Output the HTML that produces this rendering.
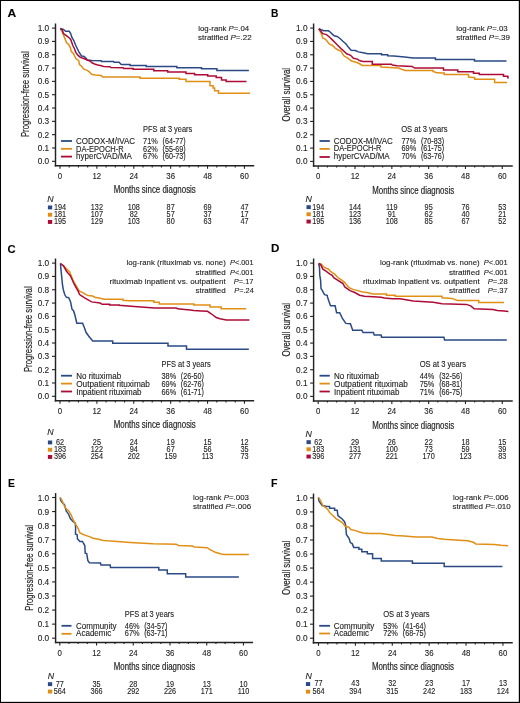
<!DOCTYPE html>
<html><head><meta charset="utf-8"><style>
html,body{margin:0;padding:0;background:#fff;width:520px;height:703px;overflow:hidden}
svg{display:block;font-family:"Liberation Sans",sans-serif;will-change:transform}
text{stroke:#2a2a2a;stroke-width:0.12px}
text.ttl{stroke-width:0.2px}
</style></head><body>
<svg width="520" height="703" viewBox="0 0 520 703">
<rect x="0" y="0" width="520" height="703" fill="#fff"/>
<rect x="0.00" y="0.00" width="520.00" height="1.00" fill="#000"/>
<rect x="0.00" y="0.00" width="1.00" height="703.00" fill="#000"/>
<rect x="518.80" y="0.00" width="1.20" height="703.00" fill="#000"/>
<rect x="0.00" y="701.85" width="520.00" height="1.15" fill="#000"/>
<line x1="55.50" y1="23.50" x2="55.50" y2="166.53" stroke="#222" stroke-width="1.45"/>
<line x1="54.77" y1="165.80" x2="254.20" y2="165.80" stroke="#222" stroke-width="1.45"/>
<line x1="52.00" y1="161.30" x2="55.50" y2="161.30" stroke="#222" stroke-width="1.10"/>
<text x="37.70" y="164.30" font-size="8.50" textLength="11.50" lengthAdjust="spacingAndGlyphs" fill="#222">0.0</text>
<line x1="52.00" y1="147.98" x2="55.50" y2="147.98" stroke="#222" stroke-width="1.10"/>
<text x="37.70" y="150.98" font-size="8.50" textLength="11.50" lengthAdjust="spacingAndGlyphs" fill="#222">0.1</text>
<line x1="52.00" y1="134.66" x2="55.50" y2="134.66" stroke="#222" stroke-width="1.10"/>
<text x="37.70" y="137.66" font-size="8.50" textLength="11.50" lengthAdjust="spacingAndGlyphs" fill="#222">0.2</text>
<line x1="52.00" y1="121.34" x2="55.50" y2="121.34" stroke="#222" stroke-width="1.10"/>
<text x="37.70" y="124.34" font-size="8.50" textLength="11.50" lengthAdjust="spacingAndGlyphs" fill="#222">0.3</text>
<line x1="52.00" y1="108.02" x2="55.50" y2="108.02" stroke="#222" stroke-width="1.10"/>
<text x="37.70" y="111.02" font-size="8.50" textLength="11.50" lengthAdjust="spacingAndGlyphs" fill="#222">0.4</text>
<line x1="52.00" y1="94.70" x2="55.50" y2="94.70" stroke="#222" stroke-width="1.10"/>
<text x="37.70" y="97.70" font-size="8.50" textLength="11.50" lengthAdjust="spacingAndGlyphs" fill="#222">0.5</text>
<line x1="52.00" y1="81.38" x2="55.50" y2="81.38" stroke="#222" stroke-width="1.10"/>
<text x="37.70" y="84.38" font-size="8.50" textLength="11.50" lengthAdjust="spacingAndGlyphs" fill="#222">0.6</text>
<line x1="52.00" y1="68.06" x2="55.50" y2="68.06" stroke="#222" stroke-width="1.10"/>
<text x="37.70" y="71.06" font-size="8.50" textLength="11.50" lengthAdjust="spacingAndGlyphs" fill="#222">0.7</text>
<line x1="52.00" y1="54.74" x2="55.50" y2="54.74" stroke="#222" stroke-width="1.10"/>
<text x="37.70" y="57.74" font-size="8.50" textLength="11.50" lengthAdjust="spacingAndGlyphs" fill="#222">0.8</text>
<line x1="52.00" y1="41.42" x2="55.50" y2="41.42" stroke="#222" stroke-width="1.10"/>
<text x="37.70" y="44.42" font-size="8.50" textLength="11.50" lengthAdjust="spacingAndGlyphs" fill="#222">0.9</text>
<line x1="52.00" y1="28.10" x2="55.50" y2="28.10" stroke="#222" stroke-width="1.10"/>
<text x="37.70" y="31.10" font-size="8.50" textLength="11.50" lengthAdjust="spacingAndGlyphs" fill="#222">1.0</text>
<line x1="60.00" y1="165.80" x2="60.00" y2="168.80" stroke="#222" stroke-width="1.10"/>
<text x="57.82" y="179.00" font-size="8.50" textLength="4.36" lengthAdjust="spacingAndGlyphs" fill="#222">0</text>
<line x1="69.22" y1="165.80" x2="69.22" y2="167.40" stroke="#222" stroke-width="1.10"/>
<line x1="78.44" y1="165.80" x2="78.44" y2="167.40" stroke="#222" stroke-width="1.10"/>
<line x1="87.67" y1="165.80" x2="87.67" y2="167.40" stroke="#222" stroke-width="1.10"/>
<line x1="96.89" y1="165.80" x2="96.89" y2="168.80" stroke="#222" stroke-width="1.10"/>
<text x="92.53" y="179.00" font-size="8.50" textLength="8.72" lengthAdjust="spacingAndGlyphs" fill="#222">12</text>
<line x1="106.11" y1="165.80" x2="106.11" y2="167.40" stroke="#222" stroke-width="1.10"/>
<line x1="115.33" y1="165.80" x2="115.33" y2="167.40" stroke="#222" stroke-width="1.10"/>
<line x1="124.55" y1="165.80" x2="124.55" y2="167.40" stroke="#222" stroke-width="1.10"/>
<line x1="133.78" y1="165.80" x2="133.78" y2="168.80" stroke="#222" stroke-width="1.10"/>
<text x="129.42" y="179.00" font-size="8.50" textLength="8.72" lengthAdjust="spacingAndGlyphs" fill="#222">24</text>
<line x1="143.00" y1="165.80" x2="143.00" y2="167.40" stroke="#222" stroke-width="1.10"/>
<line x1="152.22" y1="165.80" x2="152.22" y2="167.40" stroke="#222" stroke-width="1.10"/>
<line x1="161.44" y1="165.80" x2="161.44" y2="167.40" stroke="#222" stroke-width="1.10"/>
<line x1="170.66" y1="165.80" x2="170.66" y2="168.80" stroke="#222" stroke-width="1.10"/>
<text x="166.30" y="179.00" font-size="8.50" textLength="8.72" lengthAdjust="spacingAndGlyphs" fill="#222">36</text>
<line x1="179.89" y1="165.80" x2="179.89" y2="167.40" stroke="#222" stroke-width="1.10"/>
<line x1="189.11" y1="165.80" x2="189.11" y2="167.40" stroke="#222" stroke-width="1.10"/>
<line x1="198.33" y1="165.80" x2="198.33" y2="167.40" stroke="#222" stroke-width="1.10"/>
<line x1="207.55" y1="165.80" x2="207.55" y2="168.80" stroke="#222" stroke-width="1.10"/>
<text x="203.19" y="179.00" font-size="8.50" textLength="8.72" lengthAdjust="spacingAndGlyphs" fill="#222">48</text>
<line x1="216.77" y1="165.80" x2="216.77" y2="167.40" stroke="#222" stroke-width="1.10"/>
<line x1="226.00" y1="165.80" x2="226.00" y2="167.40" stroke="#222" stroke-width="1.10"/>
<line x1="235.22" y1="165.80" x2="235.22" y2="167.40" stroke="#222" stroke-width="1.10"/>
<line x1="244.44" y1="165.80" x2="244.44" y2="168.80" stroke="#222" stroke-width="1.10"/>
<text x="240.08" y="179.00" font-size="8.50" textLength="8.72" lengthAdjust="spacingAndGlyphs" fill="#222">60</text>
<text x="7.50" y="17.30" font-size="10.40" textLength="8.70" lengthAdjust="spacingAndGlyphs" fill="#000" font-weight="bold">A</text>
<g transform="translate(28.50,94.25) rotate(-90)">
<text x="-42.85" y="0.00" font-size="10.20" textLength="85.70" lengthAdjust="spacingAndGlyphs" fill="#222" class="ttl">Progression-free survival</text>
</g>
<text x="113.70" y="193.30" font-size="10.40" textLength="82.10" lengthAdjust="spacingAndGlyphs" fill="#222" class="ttl">Months since diagnosis</text>
<text x="198.30" y="31.10" font-size="8.00" textLength="50.90" lengthAdjust="spacingAndGlyphs" fill="#222">log-rank <tspan font-style="italic">P</tspan>=.04</text>
<text x="198.00" y="40.10" font-size="8.00" textLength="53.60" lengthAdjust="spacingAndGlyphs" fill="#222">stratified <tspan font-style="italic">P</tspan>=.22</text>
<text x="143.10" y="131.80" font-size="8.20" textLength="49.21" lengthAdjust="spacingAndGlyphs" fill="#222">PFS at 3 years</text>
<line x1="61.00" y1="141.00" x2="72.00" y2="141.00" stroke="#2a4a85" stroke-width="1.80"/>
<text x="76.10" y="143.80" font-size="8.20" textLength="58.97" lengthAdjust="spacingAndGlyphs" fill="#222">CODOX-M/IVAC</text>
<text x="143.10" y="143.80" font-size="8.20" textLength="14.73" lengthAdjust="spacingAndGlyphs" fill="#222">71%</text>
<text x="162.50" y="143.80" font-size="8.20" textLength="23.21" lengthAdjust="spacingAndGlyphs" fill="#222">(64-77)</text>
<line x1="61.00" y1="148.80" x2="72.00" y2="148.80" stroke="#e08f14" stroke-width="1.80"/>
<text x="76.10" y="151.60" font-size="8.20" textLength="47.63" lengthAdjust="spacingAndGlyphs" fill="#222">DA-EPOCH-R</text>
<text x="143.10" y="151.60" font-size="8.20" textLength="14.73" lengthAdjust="spacingAndGlyphs" fill="#222">62%</text>
<text x="162.50" y="151.60" font-size="8.20" textLength="23.21" lengthAdjust="spacingAndGlyphs" fill="#222">(55-69)</text>
<line x1="61.00" y1="156.60" x2="72.00" y2="156.60" stroke="#ad0b36" stroke-width="1.80"/>
<text x="76.10" y="159.40" font-size="8.20" textLength="55.87" lengthAdjust="spacingAndGlyphs" fill="#222">hyperCVAD/MA</text>
<text x="143.10" y="159.40" font-size="8.20" textLength="14.73" lengthAdjust="spacingAndGlyphs" fill="#222">67%</text>
<text x="162.50" y="159.40" font-size="8.20" textLength="23.21" lengthAdjust="spacingAndGlyphs" fill="#222">(60-73)</text>
<text x="47.30" y="201.90" font-size="8.80" textLength="6.36" lengthAdjust="spacingAndGlyphs" fill="#222" font-style="italic">N</text>
<rect x="47.90" y="205.50" width="4.30" height="3.90" fill="#2a4a85"/>
<text x="53.93" y="209.80" font-size="8.30" textLength="12.15" lengthAdjust="spacingAndGlyphs" fill="#222">194</text>
<text x="90.81" y="209.80" font-size="8.30" textLength="12.15" lengthAdjust="spacingAndGlyphs" fill="#222">132</text>
<text x="127.70" y="209.80" font-size="8.30" textLength="12.15" lengthAdjust="spacingAndGlyphs" fill="#222">108</text>
<text x="166.62" y="209.80" font-size="8.30" textLength="8.10" lengthAdjust="spacingAndGlyphs" fill="#222">87</text>
<text x="203.50" y="209.80" font-size="8.30" textLength="8.10" lengthAdjust="spacingAndGlyphs" fill="#222">69</text>
<text x="240.39" y="209.80" font-size="8.30" textLength="8.10" lengthAdjust="spacingAndGlyphs" fill="#222">47</text>
<rect x="47.90" y="212.80" width="4.30" height="3.90" fill="#e08f14"/>
<text x="53.93" y="217.10" font-size="8.30" textLength="12.15" lengthAdjust="spacingAndGlyphs" fill="#222">181</text>
<text x="90.81" y="217.10" font-size="8.30" textLength="12.15" lengthAdjust="spacingAndGlyphs" fill="#222">107</text>
<text x="129.73" y="217.10" font-size="8.30" textLength="8.10" lengthAdjust="spacingAndGlyphs" fill="#222">82</text>
<text x="166.62" y="217.10" font-size="8.30" textLength="8.10" lengthAdjust="spacingAndGlyphs" fill="#222">57</text>
<text x="203.50" y="217.10" font-size="8.30" textLength="8.10" lengthAdjust="spacingAndGlyphs" fill="#222">37</text>
<text x="240.39" y="217.10" font-size="8.30" textLength="8.10" lengthAdjust="spacingAndGlyphs" fill="#222">17</text>
<rect x="47.90" y="220.00" width="4.30" height="3.90" fill="#ad0b36"/>
<text x="53.93" y="224.30" font-size="8.30" textLength="12.15" lengthAdjust="spacingAndGlyphs" fill="#222">195</text>
<text x="90.81" y="224.30" font-size="8.30" textLength="12.15" lengthAdjust="spacingAndGlyphs" fill="#222">129</text>
<text x="127.70" y="224.30" font-size="8.30" textLength="12.15" lengthAdjust="spacingAndGlyphs" fill="#222">103</text>
<text x="166.62" y="224.30" font-size="8.30" textLength="8.10" lengthAdjust="spacingAndGlyphs" fill="#222">80</text>
<text x="203.50" y="224.30" font-size="8.30" textLength="8.10" lengthAdjust="spacingAndGlyphs" fill="#222">63</text>
<text x="240.39" y="224.30" font-size="8.30" textLength="8.10" lengthAdjust="spacingAndGlyphs" fill="#222">47</text>
<path d="M60.30,28.60 L61.80,30.90 L63.40,34.80 L64.90,38.60 L66.50,42.50 L68.80,44.80 L70.30,47.60 L71.20,51.30 L73.50,53.70 L75.80,58.60 L78.70,60.60 L79.50,64.60 L81.50,66.30 L83.80,69.20 L87.30,70.40 L89.60,72.10 L91.50,74.20 L95.40,75.00 L101.20,75.40 L102.70,76.90 H140 V78.2 H179.2 V79.2 H186 V81.5 H210 V85.8 H213.1 V88.1 H214.6 V90.7 H218.5 V93.2 H250" fill="none" stroke="#e08f14" stroke-width="1.50" stroke-linejoin="miter" stroke-linecap="butt"/>
<path d="M60.30,28.60 L63.40,29.40 L65.70,31.30 L69.20,31.30 L70.70,33.60 L71.80,37.10 L74.00,41.00 L75.80,45.50 L77.50,49.00 L79.20,52.50 L81.50,56.00 L83.80,56.30 L85.60,57.70 L87.30,60.00 L91.90,60.60 L101.20,60.80 L101.50,61.50 L113.50,61.50 L114.20,62.30 L119.20,62.30 L120.80,64.20 L121.50,64.60 H130 V65.4 H146.2 V66.5 H176.9 V67.7 H201.5 V68.8 H216.9 V70.4 H248.9" fill="none" stroke="#2a4a85" stroke-width="1.50" stroke-linejoin="miter" stroke-linecap="butt"/>
<path d="M60.30,28.60 L62.20,29.80 L63.40,33.60 L65.70,35.20 L68.80,37.50 L70.70,39.40 L71.80,42.50 L72.80,45.50 L74.40,48.50 L75.80,52.50 L78.10,55.40 L80.40,57.40 L84.40,58.80 L87.30,60.00 L90.20,61.20 L92.40,63.00 L94.60,64.00 L97.70,65.00 L101.50,65.80 L103.50,66.40 L110.00,66.80 L110.80,67.50 L123.10,67.70 L123.80,68.50 H133.1 V69.2 H153.8 V70.8 H167.7 V72 H186 V73.5 H194.6 V74.7 H207.7 V75.9 H216.2 V77.5 H221.5 V79.9 H226.2 V81.6 H246.5" fill="none" stroke="#ad0b36" stroke-width="1.50" stroke-linejoin="miter" stroke-linecap="butt"/>
<line x1="313.60" y1="23.50" x2="313.60" y2="166.72" stroke="#222" stroke-width="1.45"/>
<line x1="312.88" y1="166.00" x2="512.75" y2="166.00" stroke="#222" stroke-width="1.45"/>
<line x1="310.10" y1="161.40" x2="313.60" y2="161.40" stroke="#222" stroke-width="1.10"/>
<text x="296.00" y="164.40" font-size="8.50" textLength="11.50" lengthAdjust="spacingAndGlyphs" fill="#222">0.0</text>
<line x1="310.10" y1="148.07" x2="313.60" y2="148.07" stroke="#222" stroke-width="1.10"/>
<text x="296.00" y="151.07" font-size="8.50" textLength="11.50" lengthAdjust="spacingAndGlyphs" fill="#222">0.1</text>
<line x1="310.10" y1="134.74" x2="313.60" y2="134.74" stroke="#222" stroke-width="1.10"/>
<text x="296.00" y="137.74" font-size="8.50" textLength="11.50" lengthAdjust="spacingAndGlyphs" fill="#222">0.2</text>
<line x1="310.10" y1="121.41" x2="313.60" y2="121.41" stroke="#222" stroke-width="1.10"/>
<text x="296.00" y="124.41" font-size="8.50" textLength="11.50" lengthAdjust="spacingAndGlyphs" fill="#222">0.3</text>
<line x1="310.10" y1="108.08" x2="313.60" y2="108.08" stroke="#222" stroke-width="1.10"/>
<text x="296.00" y="111.08" font-size="8.50" textLength="11.50" lengthAdjust="spacingAndGlyphs" fill="#222">0.4</text>
<line x1="310.10" y1="94.75" x2="313.60" y2="94.75" stroke="#222" stroke-width="1.10"/>
<text x="296.00" y="97.75" font-size="8.50" textLength="11.50" lengthAdjust="spacingAndGlyphs" fill="#222">0.5</text>
<line x1="310.10" y1="81.42" x2="313.60" y2="81.42" stroke="#222" stroke-width="1.10"/>
<text x="296.00" y="84.42" font-size="8.50" textLength="11.50" lengthAdjust="spacingAndGlyphs" fill="#222">0.6</text>
<line x1="310.10" y1="68.09" x2="313.60" y2="68.09" stroke="#222" stroke-width="1.10"/>
<text x="296.00" y="71.09" font-size="8.50" textLength="11.50" lengthAdjust="spacingAndGlyphs" fill="#222">0.7</text>
<line x1="310.10" y1="54.76" x2="313.60" y2="54.76" stroke="#222" stroke-width="1.10"/>
<text x="296.00" y="57.76" font-size="8.50" textLength="11.50" lengthAdjust="spacingAndGlyphs" fill="#222">0.8</text>
<line x1="310.10" y1="41.43" x2="313.60" y2="41.43" stroke="#222" stroke-width="1.10"/>
<text x="296.00" y="44.43" font-size="8.50" textLength="11.50" lengthAdjust="spacingAndGlyphs" fill="#222">0.9</text>
<line x1="310.10" y1="28.10" x2="313.60" y2="28.10" stroke="#222" stroke-width="1.10"/>
<text x="296.00" y="31.10" font-size="8.50" textLength="11.50" lengthAdjust="spacingAndGlyphs" fill="#222">1.0</text>
<line x1="318.20" y1="166.00" x2="318.20" y2="169.00" stroke="#222" stroke-width="1.10"/>
<text x="316.02" y="179.00" font-size="8.50" textLength="4.36" lengthAdjust="spacingAndGlyphs" fill="#222">0</text>
<line x1="327.40" y1="166.00" x2="327.40" y2="167.60" stroke="#222" stroke-width="1.10"/>
<line x1="336.61" y1="166.00" x2="336.61" y2="167.60" stroke="#222" stroke-width="1.10"/>
<line x1="345.81" y1="166.00" x2="345.81" y2="167.60" stroke="#222" stroke-width="1.10"/>
<line x1="355.02" y1="166.00" x2="355.02" y2="169.00" stroke="#222" stroke-width="1.10"/>
<text x="350.66" y="179.00" font-size="8.50" textLength="8.72" lengthAdjust="spacingAndGlyphs" fill="#222">12</text>
<line x1="364.22" y1="166.00" x2="364.22" y2="167.60" stroke="#222" stroke-width="1.10"/>
<line x1="373.42" y1="166.00" x2="373.42" y2="167.60" stroke="#222" stroke-width="1.10"/>
<line x1="382.63" y1="166.00" x2="382.63" y2="167.60" stroke="#222" stroke-width="1.10"/>
<line x1="391.83" y1="166.00" x2="391.83" y2="169.00" stroke="#222" stroke-width="1.10"/>
<text x="387.47" y="179.00" font-size="8.50" textLength="8.72" lengthAdjust="spacingAndGlyphs" fill="#222">24</text>
<line x1="401.04" y1="166.00" x2="401.04" y2="167.60" stroke="#222" stroke-width="1.10"/>
<line x1="410.24" y1="166.00" x2="410.24" y2="167.60" stroke="#222" stroke-width="1.10"/>
<line x1="419.44" y1="166.00" x2="419.44" y2="167.60" stroke="#222" stroke-width="1.10"/>
<line x1="428.65" y1="166.00" x2="428.65" y2="169.00" stroke="#222" stroke-width="1.10"/>
<text x="424.29" y="179.00" font-size="8.50" textLength="8.72" lengthAdjust="spacingAndGlyphs" fill="#222">36</text>
<line x1="437.85" y1="166.00" x2="437.85" y2="167.60" stroke="#222" stroke-width="1.10"/>
<line x1="447.06" y1="166.00" x2="447.06" y2="167.60" stroke="#222" stroke-width="1.10"/>
<line x1="456.26" y1="166.00" x2="456.26" y2="167.60" stroke="#222" stroke-width="1.10"/>
<line x1="465.46" y1="166.00" x2="465.46" y2="169.00" stroke="#222" stroke-width="1.10"/>
<text x="461.10" y="179.00" font-size="8.50" textLength="8.72" lengthAdjust="spacingAndGlyphs" fill="#222">48</text>
<line x1="474.67" y1="166.00" x2="474.67" y2="167.60" stroke="#222" stroke-width="1.10"/>
<line x1="483.87" y1="166.00" x2="483.87" y2="167.60" stroke="#222" stroke-width="1.10"/>
<line x1="493.08" y1="166.00" x2="493.08" y2="167.60" stroke="#222" stroke-width="1.10"/>
<line x1="502.28" y1="166.00" x2="502.28" y2="169.00" stroke="#222" stroke-width="1.10"/>
<text x="497.92" y="179.00" font-size="8.50" textLength="8.72" lengthAdjust="spacingAndGlyphs" fill="#222">60</text>
<text x="271.00" y="17.30" font-size="10.40" textLength="7.40" lengthAdjust="spacingAndGlyphs" fill="#000" font-weight="bold">B</text>
<g transform="translate(289.80,94.75) rotate(-90)">
<text x="-26.85" y="0.00" font-size="10.20" textLength="53.70" lengthAdjust="spacingAndGlyphs" fill="#222" class="ttl">Overall survival</text>
</g>
<text x="372.30" y="193.50" font-size="10.40" textLength="81.80" lengthAdjust="spacingAndGlyphs" fill="#222" class="ttl">Months since diagnosis</text>
<text x="456.20" y="30.90" font-size="8.00" textLength="51.50" lengthAdjust="spacingAndGlyphs" fill="#222">log-rank <tspan font-style="italic">P</tspan>=.03</text>
<text x="456.20" y="40.00" font-size="8.00" textLength="53.80" lengthAdjust="spacingAndGlyphs" fill="#222">stratified <tspan font-style="italic">P</tspan>=.39</text>
<text x="401.20" y="131.80" font-size="8.20" textLength="46.47" lengthAdjust="spacingAndGlyphs" fill="#222">OS at 3 years</text>
<line x1="319.50" y1="141.00" x2="329.80" y2="141.00" stroke="#2a4a85" stroke-width="1.80"/>
<text x="333.80" y="143.60" font-size="8.20" textLength="58.97" lengthAdjust="spacingAndGlyphs" fill="#222">CODOX-M/IVAC</text>
<text x="401.50" y="143.60" font-size="8.20" textLength="14.73" lengthAdjust="spacingAndGlyphs" fill="#222">77%</text>
<text x="420.90" y="143.60" font-size="8.20" textLength="23.21" lengthAdjust="spacingAndGlyphs" fill="#222">(70-83)</text>
<line x1="319.50" y1="148.90" x2="329.80" y2="148.90" stroke="#e08f14" stroke-width="1.80"/>
<text x="333.80" y="151.40" font-size="8.20" textLength="47.63" lengthAdjust="spacingAndGlyphs" fill="#222">DA-EPOCH-R</text>
<text x="401.50" y="151.40" font-size="8.20" textLength="14.73" lengthAdjust="spacingAndGlyphs" fill="#222">69%</text>
<text x="420.90" y="151.40" font-size="8.20" textLength="23.21" lengthAdjust="spacingAndGlyphs" fill="#222">(61-75)</text>
<line x1="319.50" y1="157.00" x2="329.80" y2="157.00" stroke="#ad0b36" stroke-width="1.80"/>
<text x="333.80" y="159.20" font-size="8.20" textLength="55.87" lengthAdjust="spacingAndGlyphs" fill="#222">hyperCVAD/MA</text>
<text x="401.50" y="159.20" font-size="8.20" textLength="14.73" lengthAdjust="spacingAndGlyphs" fill="#222">70%</text>
<text x="420.90" y="159.20" font-size="8.20" textLength="23.21" lengthAdjust="spacingAndGlyphs" fill="#222">(63-76)</text>
<text x="305.40" y="201.70" font-size="8.80" textLength="6.36" lengthAdjust="spacingAndGlyphs" fill="#222" font-style="italic">N</text>
<rect x="306.50" y="205.20" width="4.30" height="3.90" fill="#2a4a85"/>
<text x="312.13" y="209.50" font-size="8.30" textLength="12.15" lengthAdjust="spacingAndGlyphs" fill="#222">194</text>
<text x="348.94" y="209.50" font-size="8.30" textLength="12.15" lengthAdjust="spacingAndGlyphs" fill="#222">144</text>
<text x="386.03" y="209.50" font-size="8.30" textLength="11.61" lengthAdjust="spacingAndGlyphs" fill="#222">119</text>
<text x="424.60" y="209.50" font-size="8.30" textLength="8.10" lengthAdjust="spacingAndGlyphs" fill="#222">95</text>
<text x="461.42" y="209.50" font-size="8.30" textLength="8.10" lengthAdjust="spacingAndGlyphs" fill="#222">76</text>
<text x="498.23" y="209.50" font-size="8.30" textLength="8.10" lengthAdjust="spacingAndGlyphs" fill="#222">53</text>
<rect x="306.50" y="212.30" width="4.30" height="3.90" fill="#e08f14"/>
<text x="312.13" y="216.60" font-size="8.30" textLength="12.15" lengthAdjust="spacingAndGlyphs" fill="#222">181</text>
<text x="348.94" y="216.60" font-size="8.30" textLength="12.15" lengthAdjust="spacingAndGlyphs" fill="#222">123</text>
<text x="387.78" y="216.60" font-size="8.30" textLength="8.10" lengthAdjust="spacingAndGlyphs" fill="#222">91</text>
<text x="424.60" y="216.60" font-size="8.30" textLength="8.10" lengthAdjust="spacingAndGlyphs" fill="#222">62</text>
<text x="461.42" y="216.60" font-size="8.30" textLength="8.10" lengthAdjust="spacingAndGlyphs" fill="#222">40</text>
<text x="498.23" y="216.60" font-size="8.30" textLength="8.10" lengthAdjust="spacingAndGlyphs" fill="#222">21</text>
<rect x="306.50" y="219.60" width="4.30" height="3.90" fill="#ad0b36"/>
<text x="312.13" y="223.90" font-size="8.30" textLength="12.15" lengthAdjust="spacingAndGlyphs" fill="#222">195</text>
<text x="348.94" y="223.90" font-size="8.30" textLength="12.15" lengthAdjust="spacingAndGlyphs" fill="#222">136</text>
<text x="385.76" y="223.90" font-size="8.30" textLength="12.15" lengthAdjust="spacingAndGlyphs" fill="#222">108</text>
<text x="424.60" y="223.90" font-size="8.30" textLength="8.10" lengthAdjust="spacingAndGlyphs" fill="#222">85</text>
<text x="461.42" y="223.90" font-size="8.30" textLength="8.10" lengthAdjust="spacingAndGlyphs" fill="#222">67</text>
<text x="498.23" y="223.90" font-size="8.30" textLength="8.10" lengthAdjust="spacingAndGlyphs" fill="#222">52</text>
<path d="M318.80,28.80 L321.70,34.60 L322.70,38.00 L325.60,39.40 L327.50,41.80 L329.40,44.20 L332.30,45.20 L335.20,48.10 L338.10,50.00 L341.00,51.00 L343.80,55.80 L347.70,58.20 L351.50,61.10 L355.40,62.00 L359.20,63.50 L362.30,65.50 H381 V67 L398.50,68.10 L401.50,69.20 L405.40,70.40 H433 V71.5 L436.90,72.70 L438.10,72.80 L442.70,73.10 H444.2 V74.6 H468.5 V77 L473.50,77.40 H474.7 V79.2 H494.6 V82.5 H507" fill="none" stroke="#e08f14" stroke-width="1.50" stroke-linejoin="miter" stroke-linecap="butt"/>
<path d="M318.80,28.80 L323.70,30.80 L328.50,30.80 L330.40,32.20 L332.30,34.10 L334.20,35.80 L337.10,36.50 L340.00,38.50 L342.90,41.30 L345.80,43.80 L348.70,47.60 L351.10,50.20 L355.40,50.50 L358.30,51.90 L363.10,52.70 L367.70,53.80 H381.5 V54.7 H387.7 V55.8 L393.80,56.10 L404.60,57.00 L413.10,58.10 H435.4 V59.5 H474.5 V61.1 H506.5" fill="none" stroke="#2a4a85" stroke-width="1.50" stroke-linejoin="miter" stroke-linecap="butt"/>
<path d="M318.80,28.80 L321.30,31.70 L322.70,33.70 L326.50,34.60 L329.40,37.00 L332.30,39.90 L335.20,42.80 L338.10,45.70 L341.00,48.60 L343.80,51.00 L346.70,53.80 L350.60,55.30 L353.50,58.20 L357.30,59.10 L360.00,60.80 L363.10,61.50 H372.3 V64.2 H391.5 L392.30,65.00 L396.90,65.80 L412.30,66.50 L414.60,68.10 H443.5 V70 H457.8 V71.8 H473.5 V73.2 H479.3 V74.6 H503.5 V76.3 H507.8 V77.7 H508.8" fill="none" stroke="#ad0b36" stroke-width="1.50" stroke-linejoin="miter" stroke-linecap="butt"/>
<line x1="55.50" y1="258.50" x2="55.50" y2="401.53" stroke="#222" stroke-width="1.45"/>
<line x1="54.77" y1="400.80" x2="254.20" y2="400.80" stroke="#222" stroke-width="1.45"/>
<line x1="52.00" y1="396.30" x2="55.50" y2="396.30" stroke="#222" stroke-width="1.10"/>
<text x="37.70" y="399.30" font-size="8.50" textLength="11.50" lengthAdjust="spacingAndGlyphs" fill="#222">0.0</text>
<line x1="52.00" y1="382.98" x2="55.50" y2="382.98" stroke="#222" stroke-width="1.10"/>
<text x="37.70" y="385.98" font-size="8.50" textLength="11.50" lengthAdjust="spacingAndGlyphs" fill="#222">0.1</text>
<line x1="52.00" y1="369.66" x2="55.50" y2="369.66" stroke="#222" stroke-width="1.10"/>
<text x="37.70" y="372.66" font-size="8.50" textLength="11.50" lengthAdjust="spacingAndGlyphs" fill="#222">0.2</text>
<line x1="52.00" y1="356.34" x2="55.50" y2="356.34" stroke="#222" stroke-width="1.10"/>
<text x="37.70" y="359.34" font-size="8.50" textLength="11.50" lengthAdjust="spacingAndGlyphs" fill="#222">0.3</text>
<line x1="52.00" y1="343.02" x2="55.50" y2="343.02" stroke="#222" stroke-width="1.10"/>
<text x="37.70" y="346.02" font-size="8.50" textLength="11.50" lengthAdjust="spacingAndGlyphs" fill="#222">0.4</text>
<line x1="52.00" y1="329.70" x2="55.50" y2="329.70" stroke="#222" stroke-width="1.10"/>
<text x="37.70" y="332.70" font-size="8.50" textLength="11.50" lengthAdjust="spacingAndGlyphs" fill="#222">0.5</text>
<line x1="52.00" y1="316.38" x2="55.50" y2="316.38" stroke="#222" stroke-width="1.10"/>
<text x="37.70" y="319.38" font-size="8.50" textLength="11.50" lengthAdjust="spacingAndGlyphs" fill="#222">0.6</text>
<line x1="52.00" y1="303.06" x2="55.50" y2="303.06" stroke="#222" stroke-width="1.10"/>
<text x="37.70" y="306.06" font-size="8.50" textLength="11.50" lengthAdjust="spacingAndGlyphs" fill="#222">0.7</text>
<line x1="52.00" y1="289.74" x2="55.50" y2="289.74" stroke="#222" stroke-width="1.10"/>
<text x="37.70" y="292.74" font-size="8.50" textLength="11.50" lengthAdjust="spacingAndGlyphs" fill="#222">0.8</text>
<line x1="52.00" y1="276.42" x2="55.50" y2="276.42" stroke="#222" stroke-width="1.10"/>
<text x="37.70" y="279.42" font-size="8.50" textLength="11.50" lengthAdjust="spacingAndGlyphs" fill="#222">0.9</text>
<line x1="52.00" y1="263.10" x2="55.50" y2="263.10" stroke="#222" stroke-width="1.10"/>
<text x="37.70" y="266.10" font-size="8.50" textLength="11.50" lengthAdjust="spacingAndGlyphs" fill="#222">1.0</text>
<line x1="60.00" y1="400.80" x2="60.00" y2="403.80" stroke="#222" stroke-width="1.10"/>
<text x="57.82" y="414.00" font-size="8.50" textLength="4.36" lengthAdjust="spacingAndGlyphs" fill="#222">0</text>
<line x1="69.22" y1="400.80" x2="69.22" y2="402.40" stroke="#222" stroke-width="1.10"/>
<line x1="78.44" y1="400.80" x2="78.44" y2="402.40" stroke="#222" stroke-width="1.10"/>
<line x1="87.67" y1="400.80" x2="87.67" y2="402.40" stroke="#222" stroke-width="1.10"/>
<line x1="96.89" y1="400.80" x2="96.89" y2="403.80" stroke="#222" stroke-width="1.10"/>
<text x="92.53" y="414.00" font-size="8.50" textLength="8.72" lengthAdjust="spacingAndGlyphs" fill="#222">12</text>
<line x1="106.11" y1="400.80" x2="106.11" y2="402.40" stroke="#222" stroke-width="1.10"/>
<line x1="115.33" y1="400.80" x2="115.33" y2="402.40" stroke="#222" stroke-width="1.10"/>
<line x1="124.55" y1="400.80" x2="124.55" y2="402.40" stroke="#222" stroke-width="1.10"/>
<line x1="133.78" y1="400.80" x2="133.78" y2="403.80" stroke="#222" stroke-width="1.10"/>
<text x="129.42" y="414.00" font-size="8.50" textLength="8.72" lengthAdjust="spacingAndGlyphs" fill="#222">24</text>
<line x1="143.00" y1="400.80" x2="143.00" y2="402.40" stroke="#222" stroke-width="1.10"/>
<line x1="152.22" y1="400.80" x2="152.22" y2="402.40" stroke="#222" stroke-width="1.10"/>
<line x1="161.44" y1="400.80" x2="161.44" y2="402.40" stroke="#222" stroke-width="1.10"/>
<line x1="170.66" y1="400.80" x2="170.66" y2="403.80" stroke="#222" stroke-width="1.10"/>
<text x="166.30" y="414.00" font-size="8.50" textLength="8.72" lengthAdjust="spacingAndGlyphs" fill="#222">36</text>
<line x1="179.89" y1="400.80" x2="179.89" y2="402.40" stroke="#222" stroke-width="1.10"/>
<line x1="189.11" y1="400.80" x2="189.11" y2="402.40" stroke="#222" stroke-width="1.10"/>
<line x1="198.33" y1="400.80" x2="198.33" y2="402.40" stroke="#222" stroke-width="1.10"/>
<line x1="207.55" y1="400.80" x2="207.55" y2="403.80" stroke="#222" stroke-width="1.10"/>
<text x="203.19" y="414.00" font-size="8.50" textLength="8.72" lengthAdjust="spacingAndGlyphs" fill="#222">48</text>
<line x1="216.77" y1="400.80" x2="216.77" y2="402.40" stroke="#222" stroke-width="1.10"/>
<line x1="226.00" y1="400.80" x2="226.00" y2="402.40" stroke="#222" stroke-width="1.10"/>
<line x1="235.22" y1="400.80" x2="235.22" y2="402.40" stroke="#222" stroke-width="1.10"/>
<line x1="244.44" y1="400.80" x2="244.44" y2="403.80" stroke="#222" stroke-width="1.10"/>
<text x="240.08" y="414.00" font-size="8.50" textLength="8.72" lengthAdjust="spacingAndGlyphs" fill="#222">60</text>
<text x="7.50" y="252.50" font-size="10.40" textLength="8.10" lengthAdjust="spacingAndGlyphs" fill="#000" font-weight="bold">C</text>
<g transform="translate(32.40,329.25) rotate(-90)">
<text x="-42.85" y="0.00" font-size="10.20" textLength="85.70" lengthAdjust="spacingAndGlyphs" fill="#222" class="ttl">Progression-free survival</text>
</g>
<text x="113.70" y="428.30" font-size="10.40" textLength="82.10" lengthAdjust="spacingAndGlyphs" fill="#222" class="ttl">Months since diagnosis</text>
<text x="126.50" y="265.30" font-size="8.00" textLength="99.30" lengthAdjust="spacingAndGlyphs" fill="#222">log-rank (rituximab vs. none)</text>
<text x="230.00" y="265.30" font-size="8.00" textLength="23.50" lengthAdjust="spacingAndGlyphs" fill="#222"><tspan font-style="italic">P</tspan>&lt;.001</text>
<text x="195.40" y="274.50" font-size="8.00" textLength="30.40" lengthAdjust="spacingAndGlyphs" fill="#222">stratified</text>
<text x="230.00" y="274.50" font-size="8.00" textLength="23.50" lengthAdjust="spacingAndGlyphs" fill="#222"><tspan font-style="italic">P</tspan>&lt;.001</text>
<text x="109.60" y="284.00" font-size="8.00" textLength="116.20" lengthAdjust="spacingAndGlyphs" fill="#222">rituximab inpatient vs. outpatient</text>
<text x="233.80" y="284.00" font-size="8.00" textLength="19.70" lengthAdjust="spacingAndGlyphs" fill="#222"><tspan font-style="italic">P</tspan>=.17</text>
<text x="195.40" y="293.30" font-size="8.00" textLength="30.40" lengthAdjust="spacingAndGlyphs" fill="#222">stratified</text>
<text x="234.20" y="293.30" font-size="8.00" textLength="19.60" lengthAdjust="spacingAndGlyphs" fill="#222"><tspan font-style="italic">P</tspan>=.24</text>
<text x="161.50" y="366.70" font-size="8.20" textLength="49.21" lengthAdjust="spacingAndGlyphs" fill="#222">PFS at 3 years</text>
<line x1="61.00" y1="375.70" x2="72.00" y2="375.70" stroke="#2a4a85" stroke-width="1.80"/>
<text x="76.20" y="379.00" font-size="8.20" textLength="44.90" lengthAdjust="spacingAndGlyphs" fill="#222">No rituximab</text>
<text x="161.50" y="379.00" font-size="8.20" textLength="14.73" lengthAdjust="spacingAndGlyphs" fill="#222">38%</text>
<text x="180.80" y="379.00" font-size="8.20" textLength="23.21" lengthAdjust="spacingAndGlyphs" fill="#222">(26-50)</text>
<line x1="61.00" y1="383.60" x2="72.00" y2="383.60" stroke="#e08f14" stroke-width="1.80"/>
<text x="76.20" y="386.80" font-size="8.20" textLength="73.74" lengthAdjust="spacingAndGlyphs" fill="#222">Outpatient rituximab</text>
<text x="161.50" y="386.80" font-size="8.20" textLength="14.73" lengthAdjust="spacingAndGlyphs" fill="#222">69%</text>
<text x="180.80" y="386.80" font-size="8.20" textLength="23.21" lengthAdjust="spacingAndGlyphs" fill="#222">(62-76)</text>
<line x1="61.00" y1="391.50" x2="72.00" y2="391.50" stroke="#ad0b36" stroke-width="1.80"/>
<text x="76.20" y="394.50" font-size="8.20" textLength="65.37" lengthAdjust="spacingAndGlyphs" fill="#222">Inpatient rituximab</text>
<text x="161.50" y="394.50" font-size="8.20" textLength="14.73" lengthAdjust="spacingAndGlyphs" fill="#222">66%</text>
<text x="180.80" y="394.50" font-size="8.20" textLength="23.21" lengthAdjust="spacingAndGlyphs" fill="#222">(61-71)</text>
<text x="47.30" y="434.90" font-size="8.80" textLength="6.36" lengthAdjust="spacingAndGlyphs" fill="#222" font-style="italic">N</text>
<rect x="47.90" y="440.50" width="4.30" height="3.90" fill="#2a4a85"/>
<text x="55.95" y="444.80" font-size="8.30" textLength="8.10" lengthAdjust="spacingAndGlyphs" fill="#222">62</text>
<text x="92.84" y="444.80" font-size="8.30" textLength="8.10" lengthAdjust="spacingAndGlyphs" fill="#222">25</text>
<text x="129.73" y="444.80" font-size="8.30" textLength="8.10" lengthAdjust="spacingAndGlyphs" fill="#222">24</text>
<text x="166.62" y="444.80" font-size="8.30" textLength="8.10" lengthAdjust="spacingAndGlyphs" fill="#222">19</text>
<text x="203.50" y="444.80" font-size="8.30" textLength="8.10" lengthAdjust="spacingAndGlyphs" fill="#222">15</text>
<text x="240.39" y="444.80" font-size="8.30" textLength="8.10" lengthAdjust="spacingAndGlyphs" fill="#222">12</text>
<rect x="47.90" y="447.80" width="4.30" height="3.90" fill="#e08f14"/>
<text x="53.93" y="452.10" font-size="8.30" textLength="12.15" lengthAdjust="spacingAndGlyphs" fill="#222">183</text>
<text x="90.81" y="452.10" font-size="8.30" textLength="12.15" lengthAdjust="spacingAndGlyphs" fill="#222">122</text>
<text x="129.73" y="452.10" font-size="8.30" textLength="8.10" lengthAdjust="spacingAndGlyphs" fill="#222">94</text>
<text x="166.62" y="452.10" font-size="8.30" textLength="8.10" lengthAdjust="spacingAndGlyphs" fill="#222">67</text>
<text x="203.50" y="452.10" font-size="8.30" textLength="8.10" lengthAdjust="spacingAndGlyphs" fill="#222">56</text>
<text x="240.39" y="452.10" font-size="8.30" textLength="8.10" lengthAdjust="spacingAndGlyphs" fill="#222">35</text>
<rect x="47.90" y="455.00" width="4.30" height="3.90" fill="#ad0b36"/>
<text x="53.93" y="459.30" font-size="8.30" textLength="12.15" lengthAdjust="spacingAndGlyphs" fill="#222">396</text>
<text x="90.81" y="459.30" font-size="8.30" textLength="12.15" lengthAdjust="spacingAndGlyphs" fill="#222">254</text>
<text x="127.70" y="459.30" font-size="8.30" textLength="12.15" lengthAdjust="spacingAndGlyphs" fill="#222">202</text>
<text x="164.59" y="459.30" font-size="8.30" textLength="12.15" lengthAdjust="spacingAndGlyphs" fill="#222">159</text>
<text x="201.75" y="459.30" font-size="8.30" textLength="11.61" lengthAdjust="spacingAndGlyphs" fill="#222">113</text>
<text x="240.39" y="459.30" font-size="8.30" textLength="8.10" lengthAdjust="spacingAndGlyphs" fill="#222">73</text>
<path d="M60.40,263.50 L64.20,266.50 L69.60,271.90 L73.50,281.20 L78.80,290.40 L80.00,291.30 L83.20,292.90 L87.90,295.60 L92.70,296.10 L94.80,297.20 L100.10,298.20 L104.30,299.30 H122.9 V300.3 L129.40,300.80 H153.9 V302.3 H159.3 V304 H193.8 V305 H210 V307 H221.2 V308.8 H246.2" fill="none" stroke="#e08f14" stroke-width="1.50" stroke-linejoin="miter" stroke-linecap="butt"/>
<path d="M60.40,263.50 L61.20,271.90 L62.50,285.00 L63.40,290.00 L64.80,294.80 L66.30,297.20 L68.70,297.70 L70.60,302.00 L72.00,309.20 L73.50,310.70 L74.90,315.00 L76.80,323.20 L82.60,323.20 L84.50,328.00 L86.00,332.30 L88.80,336.20 L92.70,341.00 H112.7 V343.3 H168 V346 H186.5 V349.2 H248.8" fill="none" stroke="#2a4a85" stroke-width="1.50" stroke-linejoin="miter" stroke-linecap="butt"/>
<path d="M60.40,263.50 L63.50,265.80 L66.50,271.20 L70.40,275.80 L74.20,284.20 L78.10,291.20 L79.60,294.50 L84.20,297.70 L91.60,301.90 L100.10,303.00 L102.20,304.30 H109.6 V305.1 H119.2 V305.3 L134.40,306.60 L154.60,308.00 L176.30,308.00 L177.70,308.80 L184.90,309.50 L190.00,310.00 L193.75,310.60 L201.25,311.00 L207.50,311.30 L211.25,313.75 L216.25,317.50 L220.00,318.75 L226.25,320.00 L249.40,320.00" fill="none" stroke="#ad0b36" stroke-width="1.50" stroke-linejoin="miter" stroke-linecap="butt"/>
<line x1="313.60" y1="258.50" x2="313.60" y2="401.73" stroke="#222" stroke-width="1.45"/>
<line x1="312.88" y1="401.00" x2="512.75" y2="401.00" stroke="#222" stroke-width="1.45"/>
<line x1="310.10" y1="396.40" x2="313.60" y2="396.40" stroke="#222" stroke-width="1.10"/>
<text x="296.00" y="399.40" font-size="8.50" textLength="11.50" lengthAdjust="spacingAndGlyphs" fill="#222">0.0</text>
<line x1="310.10" y1="383.07" x2="313.60" y2="383.07" stroke="#222" stroke-width="1.10"/>
<text x="296.00" y="386.07" font-size="8.50" textLength="11.50" lengthAdjust="spacingAndGlyphs" fill="#222">0.1</text>
<line x1="310.10" y1="369.74" x2="313.60" y2="369.74" stroke="#222" stroke-width="1.10"/>
<text x="296.00" y="372.74" font-size="8.50" textLength="11.50" lengthAdjust="spacingAndGlyphs" fill="#222">0.2</text>
<line x1="310.10" y1="356.41" x2="313.60" y2="356.41" stroke="#222" stroke-width="1.10"/>
<text x="296.00" y="359.41" font-size="8.50" textLength="11.50" lengthAdjust="spacingAndGlyphs" fill="#222">0.3</text>
<line x1="310.10" y1="343.08" x2="313.60" y2="343.08" stroke="#222" stroke-width="1.10"/>
<text x="296.00" y="346.08" font-size="8.50" textLength="11.50" lengthAdjust="spacingAndGlyphs" fill="#222">0.4</text>
<line x1="310.10" y1="329.75" x2="313.60" y2="329.75" stroke="#222" stroke-width="1.10"/>
<text x="296.00" y="332.75" font-size="8.50" textLength="11.50" lengthAdjust="spacingAndGlyphs" fill="#222">0.5</text>
<line x1="310.10" y1="316.42" x2="313.60" y2="316.42" stroke="#222" stroke-width="1.10"/>
<text x="296.00" y="319.42" font-size="8.50" textLength="11.50" lengthAdjust="spacingAndGlyphs" fill="#222">0.6</text>
<line x1="310.10" y1="303.09" x2="313.60" y2="303.09" stroke="#222" stroke-width="1.10"/>
<text x="296.00" y="306.09" font-size="8.50" textLength="11.50" lengthAdjust="spacingAndGlyphs" fill="#222">0.7</text>
<line x1="310.10" y1="289.76" x2="313.60" y2="289.76" stroke="#222" stroke-width="1.10"/>
<text x="296.00" y="292.76" font-size="8.50" textLength="11.50" lengthAdjust="spacingAndGlyphs" fill="#222">0.8</text>
<line x1="310.10" y1="276.43" x2="313.60" y2="276.43" stroke="#222" stroke-width="1.10"/>
<text x="296.00" y="279.43" font-size="8.50" textLength="11.50" lengthAdjust="spacingAndGlyphs" fill="#222">0.9</text>
<line x1="310.10" y1="263.10" x2="313.60" y2="263.10" stroke="#222" stroke-width="1.10"/>
<text x="296.00" y="266.10" font-size="8.50" textLength="11.50" lengthAdjust="spacingAndGlyphs" fill="#222">1.0</text>
<line x1="318.20" y1="401.00" x2="318.20" y2="404.00" stroke="#222" stroke-width="1.10"/>
<text x="316.02" y="414.00" font-size="8.50" textLength="4.36" lengthAdjust="spacingAndGlyphs" fill="#222">0</text>
<line x1="327.40" y1="401.00" x2="327.40" y2="402.60" stroke="#222" stroke-width="1.10"/>
<line x1="336.61" y1="401.00" x2="336.61" y2="402.60" stroke="#222" stroke-width="1.10"/>
<line x1="345.81" y1="401.00" x2="345.81" y2="402.60" stroke="#222" stroke-width="1.10"/>
<line x1="355.02" y1="401.00" x2="355.02" y2="404.00" stroke="#222" stroke-width="1.10"/>
<text x="350.66" y="414.00" font-size="8.50" textLength="8.72" lengthAdjust="spacingAndGlyphs" fill="#222">12</text>
<line x1="364.22" y1="401.00" x2="364.22" y2="402.60" stroke="#222" stroke-width="1.10"/>
<line x1="373.42" y1="401.00" x2="373.42" y2="402.60" stroke="#222" stroke-width="1.10"/>
<line x1="382.63" y1="401.00" x2="382.63" y2="402.60" stroke="#222" stroke-width="1.10"/>
<line x1="391.83" y1="401.00" x2="391.83" y2="404.00" stroke="#222" stroke-width="1.10"/>
<text x="387.47" y="414.00" font-size="8.50" textLength="8.72" lengthAdjust="spacingAndGlyphs" fill="#222">24</text>
<line x1="401.04" y1="401.00" x2="401.04" y2="402.60" stroke="#222" stroke-width="1.10"/>
<line x1="410.24" y1="401.00" x2="410.24" y2="402.60" stroke="#222" stroke-width="1.10"/>
<line x1="419.44" y1="401.00" x2="419.44" y2="402.60" stroke="#222" stroke-width="1.10"/>
<line x1="428.65" y1="401.00" x2="428.65" y2="404.00" stroke="#222" stroke-width="1.10"/>
<text x="424.29" y="414.00" font-size="8.50" textLength="8.72" lengthAdjust="spacingAndGlyphs" fill="#222">36</text>
<line x1="437.85" y1="401.00" x2="437.85" y2="402.60" stroke="#222" stroke-width="1.10"/>
<line x1="447.06" y1="401.00" x2="447.06" y2="402.60" stroke="#222" stroke-width="1.10"/>
<line x1="456.26" y1="401.00" x2="456.26" y2="402.60" stroke="#222" stroke-width="1.10"/>
<line x1="465.46" y1="401.00" x2="465.46" y2="404.00" stroke="#222" stroke-width="1.10"/>
<text x="461.10" y="414.00" font-size="8.50" textLength="8.72" lengthAdjust="spacingAndGlyphs" fill="#222">48</text>
<line x1="474.67" y1="401.00" x2="474.67" y2="402.60" stroke="#222" stroke-width="1.10"/>
<line x1="483.87" y1="401.00" x2="483.87" y2="402.60" stroke="#222" stroke-width="1.10"/>
<line x1="493.08" y1="401.00" x2="493.08" y2="402.60" stroke="#222" stroke-width="1.10"/>
<line x1="502.28" y1="401.00" x2="502.28" y2="404.00" stroke="#222" stroke-width="1.10"/>
<text x="497.92" y="414.00" font-size="8.50" textLength="8.72" lengthAdjust="spacingAndGlyphs" fill="#222">60</text>
<text x="271.00" y="252.25" font-size="10.40" textLength="8.40" lengthAdjust="spacingAndGlyphs" fill="#000" font-weight="bold">D</text>
<g transform="translate(290.40,329.75) rotate(-90)">
<text x="-26.85" y="0.00" font-size="10.20" textLength="53.70" lengthAdjust="spacingAndGlyphs" fill="#222" class="ttl">Overall survival</text>
</g>
<text x="372.30" y="428.50" font-size="10.40" textLength="81.80" lengthAdjust="spacingAndGlyphs" fill="#222" class="ttl">Months since diagnosis</text>
<text x="380.00" y="265.30" font-size="8.00" textLength="99.70" lengthAdjust="spacingAndGlyphs" fill="#222">log-rank (rituximab vs. none)</text>
<text x="483.80" y="265.30" font-size="8.00" textLength="23.90" lengthAdjust="spacingAndGlyphs" fill="#222"><tspan font-style="italic">P</tspan>&lt;.001</text>
<text x="448.90" y="274.50" font-size="8.00" textLength="30.80" lengthAdjust="spacingAndGlyphs" fill="#222">stratified</text>
<text x="483.80" y="274.50" font-size="8.00" textLength="23.90" lengthAdjust="spacingAndGlyphs" fill="#222"><tspan font-style="italic">P</tspan>&lt;.001</text>
<text x="363.10" y="284.00" font-size="8.00" textLength="116.60" lengthAdjust="spacingAndGlyphs" fill="#222">rituximab inpatient vs. outpatient</text>
<text x="487.70" y="284.00" font-size="8.00" textLength="20.00" lengthAdjust="spacingAndGlyphs" fill="#222"><tspan font-style="italic">P</tspan>=.28</text>
<text x="448.90" y="293.30" font-size="8.00" textLength="30.80" lengthAdjust="spacingAndGlyphs" fill="#222">stratified</text>
<text x="487.70" y="293.30" font-size="8.00" textLength="20.00" lengthAdjust="spacingAndGlyphs" fill="#222"><tspan font-style="italic">P</tspan>=.37</text>
<text x="419.70" y="367.00" font-size="8.20" textLength="46.47" lengthAdjust="spacingAndGlyphs" fill="#222">OS at 3 years</text>
<line x1="319.50" y1="375.70" x2="329.80" y2="375.70" stroke="#2a4a85" stroke-width="1.80"/>
<text x="334.10" y="379.00" font-size="8.20" textLength="44.90" lengthAdjust="spacingAndGlyphs" fill="#222">No rituximab</text>
<text x="419.70" y="379.00" font-size="8.20" textLength="14.73" lengthAdjust="spacingAndGlyphs" fill="#222">44%</text>
<text x="439.20" y="379.00" font-size="8.20" textLength="23.21" lengthAdjust="spacingAndGlyphs" fill="#222">(32-56)</text>
<line x1="319.50" y1="383.60" x2="329.80" y2="383.60" stroke="#e08f14" stroke-width="1.80"/>
<text x="334.10" y="386.80" font-size="8.20" textLength="73.74" lengthAdjust="spacingAndGlyphs" fill="#222">Outpatient rituximab</text>
<text x="419.70" y="386.80" font-size="8.20" textLength="14.73" lengthAdjust="spacingAndGlyphs" fill="#222">75%</text>
<text x="439.20" y="386.80" font-size="8.20" textLength="23.21" lengthAdjust="spacingAndGlyphs" fill="#222">(68-81)</text>
<line x1="319.50" y1="391.50" x2="329.80" y2="391.50" stroke="#ad0b36" stroke-width="1.80"/>
<text x="334.10" y="394.50" font-size="8.20" textLength="65.37" lengthAdjust="spacingAndGlyphs" fill="#222">Inpatient rituximab</text>
<text x="419.70" y="394.50" font-size="8.20" textLength="14.73" lengthAdjust="spacingAndGlyphs" fill="#222">71%</text>
<text x="439.20" y="394.50" font-size="8.20" textLength="23.21" lengthAdjust="spacingAndGlyphs" fill="#222">(66-75)</text>
<text x="305.40" y="436.70" font-size="8.80" textLength="6.36" lengthAdjust="spacingAndGlyphs" fill="#222" font-style="italic">N</text>
<rect x="306.50" y="440.20" width="4.30" height="3.90" fill="#2a4a85"/>
<text x="314.15" y="444.50" font-size="8.30" textLength="8.10" lengthAdjust="spacingAndGlyphs" fill="#222">62</text>
<text x="350.97" y="444.50" font-size="8.30" textLength="8.10" lengthAdjust="spacingAndGlyphs" fill="#222">29</text>
<text x="387.78" y="444.50" font-size="8.30" textLength="8.10" lengthAdjust="spacingAndGlyphs" fill="#222">26</text>
<text x="424.60" y="444.50" font-size="8.30" textLength="8.10" lengthAdjust="spacingAndGlyphs" fill="#222">22</text>
<text x="461.42" y="444.50" font-size="8.30" textLength="8.10" lengthAdjust="spacingAndGlyphs" fill="#222">18</text>
<text x="498.23" y="444.50" font-size="8.30" textLength="8.10" lengthAdjust="spacingAndGlyphs" fill="#222">15</text>
<rect x="306.50" y="447.30" width="4.30" height="3.90" fill="#e08f14"/>
<text x="312.13" y="451.60" font-size="8.30" textLength="12.15" lengthAdjust="spacingAndGlyphs" fill="#222">183</text>
<text x="348.94" y="451.60" font-size="8.30" textLength="12.15" lengthAdjust="spacingAndGlyphs" fill="#222">131</text>
<text x="385.76" y="451.60" font-size="8.30" textLength="12.15" lengthAdjust="spacingAndGlyphs" fill="#222">100</text>
<text x="424.60" y="451.60" font-size="8.30" textLength="8.10" lengthAdjust="spacingAndGlyphs" fill="#222">73</text>
<text x="461.42" y="451.60" font-size="8.30" textLength="8.10" lengthAdjust="spacingAndGlyphs" fill="#222">59</text>
<text x="498.23" y="451.60" font-size="8.30" textLength="8.10" lengthAdjust="spacingAndGlyphs" fill="#222">39</text>
<rect x="306.50" y="454.60" width="4.30" height="3.90" fill="#ad0b36"/>
<text x="312.13" y="458.90" font-size="8.30" textLength="12.15" lengthAdjust="spacingAndGlyphs" fill="#222">396</text>
<text x="348.94" y="458.90" font-size="8.30" textLength="12.15" lengthAdjust="spacingAndGlyphs" fill="#222">277</text>
<text x="385.76" y="458.90" font-size="8.30" textLength="12.15" lengthAdjust="spacingAndGlyphs" fill="#222">221</text>
<text x="422.57" y="458.90" font-size="8.30" textLength="12.15" lengthAdjust="spacingAndGlyphs" fill="#222">170</text>
<text x="459.39" y="458.90" font-size="8.30" textLength="12.15" lengthAdjust="spacingAndGlyphs" fill="#222">123</text>
<text x="498.23" y="458.90" font-size="8.30" textLength="8.10" lengthAdjust="spacingAndGlyphs" fill="#222">83</text>
<path d="M318.70,263.50 L321.40,264.20 L323.70,266.90 L326.80,268.50 L328.70,269.20 L329.80,270.80 L332.20,272.70 L334.80,274.20 L336.80,276.50 L339.10,278.50 L342.20,280.40 L344.50,282.30 L346.80,285.00 L349.10,287.70 L352.90,289.40 L357.70,290.60 L362.50,292.00 L367.30,292.50 L372.60,293.90 H386.5 V295.2 H395.2 V296.2 H442 V297.7 L452.00,298.40 L457.50,300.40 H478.8 V302.6 H504" fill="none" stroke="#e08f14" stroke-width="1.50" stroke-linejoin="miter" stroke-linecap="butt"/>
<path d="M318.70,263.50 L319.50,267.70 L319.80,275.40 L320.60,280.00 L321.00,288.50 L322.50,290.80 L324.50,294.60 L327.20,295.40 L327.50,297.00 L328.90,301.20 L330.50,305.80 L335.10,305.80 L336.60,312.70 L339.70,312.70 L342.30,318.10 L345.80,323.40 L350.40,323.80 L352.70,330.30 L361.90,330.30 L363.10,332.60 L373.50,332.60 L374.20,334.90 L381.10,334.90 L381.50,337.20 L443.90,337.20 L444.50,340.00 L506.80,340.00" fill="none" stroke="#2a4a85" stroke-width="1.50" stroke-linejoin="miter" stroke-linecap="butt"/>
<path d="M318.70,263.50 L320.60,264.60 L322.90,269.20 L326.00,271.20 L329.50,273.80 L332.20,275.40 L333.70,277.70 L336.80,279.60 L339.80,281.50 L342.90,283.50 L344.80,286.90 L347.50,288.80 L350.00,290.60 L354.80,292.50 L359.60,295.20 L364.40,296.30 L373.10,296.80 L380.80,297.30 L384.60,298.10 L392.30,298.80 L400.00,298.80 L413.30,301.10 L433.20,302.20 L442.00,303.70 L466.40,304.40 L470.80,305.90 L474.10,308.80 L492.90,309.50 L497.30,310.40 L504.00,311.00 L508.40,311.50" fill="none" stroke="#ad0b36" stroke-width="1.50" stroke-linejoin="miter" stroke-linecap="butt"/>
<line x1="55.60" y1="493.10" x2="55.60" y2="643.23" stroke="#222" stroke-width="1.45"/>
<line x1="54.88" y1="642.50" x2="253.10" y2="642.50" stroke="#222" stroke-width="1.45"/>
<line x1="52.10" y1="638.20" x2="55.60" y2="638.20" stroke="#222" stroke-width="1.10"/>
<text x="37.70" y="641.20" font-size="8.50" textLength="11.50" lengthAdjust="spacingAndGlyphs" fill="#222">0.0</text>
<line x1="52.10" y1="624.13" x2="55.60" y2="624.13" stroke="#222" stroke-width="1.10"/>
<text x="37.70" y="627.13" font-size="8.50" textLength="11.50" lengthAdjust="spacingAndGlyphs" fill="#222">0.1</text>
<line x1="52.10" y1="610.06" x2="55.60" y2="610.06" stroke="#222" stroke-width="1.10"/>
<text x="37.70" y="613.06" font-size="8.50" textLength="11.50" lengthAdjust="spacingAndGlyphs" fill="#222">0.2</text>
<line x1="52.10" y1="595.99" x2="55.60" y2="595.99" stroke="#222" stroke-width="1.10"/>
<text x="37.70" y="598.99" font-size="8.50" textLength="11.50" lengthAdjust="spacingAndGlyphs" fill="#222">0.3</text>
<line x1="52.10" y1="581.92" x2="55.60" y2="581.92" stroke="#222" stroke-width="1.10"/>
<text x="37.70" y="584.92" font-size="8.50" textLength="11.50" lengthAdjust="spacingAndGlyphs" fill="#222">0.4</text>
<line x1="52.10" y1="567.85" x2="55.60" y2="567.85" stroke="#222" stroke-width="1.10"/>
<text x="37.70" y="570.85" font-size="8.50" textLength="11.50" lengthAdjust="spacingAndGlyphs" fill="#222">0.5</text>
<line x1="52.10" y1="553.78" x2="55.60" y2="553.78" stroke="#222" stroke-width="1.10"/>
<text x="37.70" y="556.78" font-size="8.50" textLength="11.50" lengthAdjust="spacingAndGlyphs" fill="#222">0.6</text>
<line x1="52.10" y1="539.71" x2="55.60" y2="539.71" stroke="#222" stroke-width="1.10"/>
<text x="37.70" y="542.71" font-size="8.50" textLength="11.50" lengthAdjust="spacingAndGlyphs" fill="#222">0.7</text>
<line x1="52.10" y1="525.64" x2="55.60" y2="525.64" stroke="#222" stroke-width="1.10"/>
<text x="37.70" y="528.64" font-size="8.50" textLength="11.50" lengthAdjust="spacingAndGlyphs" fill="#222">0.8</text>
<line x1="52.10" y1="511.57" x2="55.60" y2="511.57" stroke="#222" stroke-width="1.10"/>
<text x="37.70" y="514.57" font-size="8.50" textLength="11.50" lengthAdjust="spacingAndGlyphs" fill="#222">0.9</text>
<line x1="52.10" y1="497.50" x2="55.60" y2="497.50" stroke="#222" stroke-width="1.10"/>
<text x="37.70" y="500.50" font-size="8.50" textLength="11.50" lengthAdjust="spacingAndGlyphs" fill="#222">1.0</text>
<line x1="59.80" y1="642.50" x2="59.80" y2="645.50" stroke="#222" stroke-width="1.10"/>
<text x="57.62" y="655.70" font-size="8.50" textLength="4.36" lengthAdjust="spacingAndGlyphs" fill="#222">0</text>
<line x1="68.98" y1="642.50" x2="68.98" y2="644.10" stroke="#222" stroke-width="1.10"/>
<line x1="78.17" y1="642.50" x2="78.17" y2="644.10" stroke="#222" stroke-width="1.10"/>
<line x1="87.35" y1="642.50" x2="87.35" y2="644.10" stroke="#222" stroke-width="1.10"/>
<line x1="96.53" y1="642.50" x2="96.53" y2="645.50" stroke="#222" stroke-width="1.10"/>
<text x="92.17" y="655.70" font-size="8.50" textLength="8.72" lengthAdjust="spacingAndGlyphs" fill="#222">12</text>
<line x1="105.72" y1="642.50" x2="105.72" y2="644.10" stroke="#222" stroke-width="1.10"/>
<line x1="114.90" y1="642.50" x2="114.90" y2="644.10" stroke="#222" stroke-width="1.10"/>
<line x1="124.08" y1="642.50" x2="124.08" y2="644.10" stroke="#222" stroke-width="1.10"/>
<line x1="133.26" y1="642.50" x2="133.26" y2="645.50" stroke="#222" stroke-width="1.10"/>
<text x="128.90" y="655.70" font-size="8.50" textLength="8.72" lengthAdjust="spacingAndGlyphs" fill="#222">24</text>
<line x1="142.45" y1="642.50" x2="142.45" y2="644.10" stroke="#222" stroke-width="1.10"/>
<line x1="151.63" y1="642.50" x2="151.63" y2="644.10" stroke="#222" stroke-width="1.10"/>
<line x1="160.81" y1="642.50" x2="160.81" y2="644.10" stroke="#222" stroke-width="1.10"/>
<line x1="170.00" y1="642.50" x2="170.00" y2="645.50" stroke="#222" stroke-width="1.10"/>
<text x="165.64" y="655.70" font-size="8.50" textLength="8.72" lengthAdjust="spacingAndGlyphs" fill="#222">36</text>
<line x1="179.18" y1="642.50" x2="179.18" y2="644.10" stroke="#222" stroke-width="1.10"/>
<line x1="188.36" y1="642.50" x2="188.36" y2="644.10" stroke="#222" stroke-width="1.10"/>
<line x1="197.55" y1="642.50" x2="197.55" y2="644.10" stroke="#222" stroke-width="1.10"/>
<line x1="206.73" y1="642.50" x2="206.73" y2="645.50" stroke="#222" stroke-width="1.10"/>
<text x="202.37" y="655.70" font-size="8.50" textLength="8.72" lengthAdjust="spacingAndGlyphs" fill="#222">48</text>
<line x1="215.91" y1="642.50" x2="215.91" y2="644.10" stroke="#222" stroke-width="1.10"/>
<line x1="225.09" y1="642.50" x2="225.09" y2="644.10" stroke="#222" stroke-width="1.10"/>
<line x1="234.28" y1="642.50" x2="234.28" y2="644.10" stroke="#222" stroke-width="1.10"/>
<line x1="243.46" y1="642.50" x2="243.46" y2="645.50" stroke="#222" stroke-width="1.10"/>
<text x="239.10" y="655.70" font-size="8.50" textLength="8.72" lengthAdjust="spacingAndGlyphs" fill="#222">60</text>
<text x="8.10" y="486.90" font-size="10.40" textLength="6.90" lengthAdjust="spacingAndGlyphs" fill="#000" font-weight="bold">E</text>
<g transform="translate(32.70,567.90) rotate(-90)">
<text x="-42.80" y="0.00" font-size="10.20" textLength="85.60" lengthAdjust="spacingAndGlyphs" fill="#222" class="ttl">Progression-free survival</text>
</g>
<text x="113.75" y="670.00" font-size="10.40" textLength="81.50" lengthAdjust="spacingAndGlyphs" fill="#222" class="ttl">Months since diagnosis</text>
<text x="193.10" y="499.80" font-size="8.00" textLength="55.80" lengthAdjust="spacingAndGlyphs" fill="#222">log-rank <tspan font-style="italic">P</tspan>=.003</text>
<text x="193.10" y="509.10" font-size="8.00" textLength="58.00" lengthAdjust="spacingAndGlyphs" fill="#222">stratified <tspan font-style="italic">P</tspan>=.006</text>
<text x="124.80" y="616.80" font-size="8.20" textLength="49.21" lengthAdjust="spacingAndGlyphs" fill="#222">PFS at 3 years</text>
<line x1="61.50" y1="625.80" x2="71.50" y2="625.80" stroke="#2a4a85" stroke-width="1.80"/>
<text x="76.10" y="628.80" font-size="8.20" textLength="40.45" lengthAdjust="spacingAndGlyphs" fill="#222">Community</text>
<text x="124.80" y="628.80" font-size="8.20" textLength="14.73" lengthAdjust="spacingAndGlyphs" fill="#222">46%</text>
<text x="144.20" y="628.80" font-size="8.20" textLength="23.21" lengthAdjust="spacingAndGlyphs" fill="#222">(34-57)</text>
<line x1="61.50" y1="633.80" x2="71.50" y2="633.80" stroke="#e08f14" stroke-width="1.80"/>
<text x="76.10" y="636.00" font-size="8.20" textLength="35.13" lengthAdjust="spacingAndGlyphs" fill="#222">Academic</text>
<text x="124.80" y="636.00" font-size="8.20" textLength="14.73" lengthAdjust="spacingAndGlyphs" fill="#222">67%</text>
<text x="144.20" y="636.00" font-size="8.20" textLength="23.21" lengthAdjust="spacingAndGlyphs" fill="#222">(63-71)</text>
<text x="47.70" y="678.60" font-size="8.80" textLength="6.36" lengthAdjust="spacingAndGlyphs" fill="#222" font-style="italic">N</text>
<rect x="47.90" y="682.20" width="4.30" height="3.90" fill="#2a4a85"/>
<text x="55.75" y="686.50" font-size="8.30" textLength="8.10" lengthAdjust="spacingAndGlyphs" fill="#222">77</text>
<text x="92.48" y="686.50" font-size="8.30" textLength="8.10" lengthAdjust="spacingAndGlyphs" fill="#222">35</text>
<text x="129.22" y="686.50" font-size="8.30" textLength="8.10" lengthAdjust="spacingAndGlyphs" fill="#222">28</text>
<text x="165.95" y="686.50" font-size="8.30" textLength="8.10" lengthAdjust="spacingAndGlyphs" fill="#222">19</text>
<text x="202.68" y="686.50" font-size="8.30" textLength="8.10" lengthAdjust="spacingAndGlyphs" fill="#222">13</text>
<text x="239.41" y="686.50" font-size="8.30" textLength="8.10" lengthAdjust="spacingAndGlyphs" fill="#222">10</text>
<rect x="47.90" y="689.60" width="4.30" height="3.90" fill="#e08f14"/>
<text x="53.73" y="693.90" font-size="8.30" textLength="12.15" lengthAdjust="spacingAndGlyphs" fill="#222">564</text>
<text x="90.46" y="693.90" font-size="8.30" textLength="12.15" lengthAdjust="spacingAndGlyphs" fill="#222">366</text>
<text x="127.19" y="693.90" font-size="8.30" textLength="12.15" lengthAdjust="spacingAndGlyphs" fill="#222">292</text>
<text x="163.92" y="693.90" font-size="8.30" textLength="12.15" lengthAdjust="spacingAndGlyphs" fill="#222">226</text>
<text x="200.65" y="693.90" font-size="8.30" textLength="12.15" lengthAdjust="spacingAndGlyphs" fill="#222">171</text>
<text x="237.66" y="693.90" font-size="8.30" textLength="11.61" lengthAdjust="spacingAndGlyphs" fill="#222">110</text>
<path d="M60.30,497.50 L60.50,499.50 L61.50,501.70 L64.60,505.00 L66.20,511.00 L68.50,514.00 L70.30,518.50 L73.00,521.50 L75.30,523.20 L75.60,527.80 L75.50,534.20 L77.10,534.60 L77.50,539.20 L78.60,540.00 L79.80,541.50 L82.50,541.50 L83.60,543.50 L84.80,545.40 L85.20,553.10 L86.70,553.50 L87.80,560.40 L89.40,562.70 L100.50,563.10 L100.90,565.00 L110.20,565.00 L110.50,567.50 H158.8 V570.1 H167.3 V573.8 H185.7 V577 H238.9" fill="none" stroke="#2a4a85" stroke-width="1.50" stroke-linejoin="miter" stroke-linecap="butt"/>
<path d="M60.30,497.50 L61.80,500.20 L64.20,505.50 L65.70,508.20 L68.80,510.90 L71.10,514.80 L72.60,518.60 L74.90,523.20 L78.20,528.50 L79.80,532.70 L81.70,533.80 L85.50,535.40 L90.20,536.90 L93.20,538.20 L98.60,539.20 L103.20,540.40 L107.80,540.80 L114.00,541.20 L130.00,542.40 L153.10,543.80 L176.20,544.20 L178.50,545.40 L192.30,546.10 L194.60,547.00 L207.30,547.70 L209.60,549.30 L215.40,552.30 L221.20,553.90 L224.60,554.60 L248.80,554.60" fill="none" stroke="#e08f14" stroke-width="1.50" stroke-linejoin="miter" stroke-linecap="butt"/>
<line x1="313.50" y1="493.60" x2="313.50" y2="643.52" stroke="#222" stroke-width="1.45"/>
<line x1="312.77" y1="642.80" x2="512.75" y2="642.80" stroke="#222" stroke-width="1.45"/>
<line x1="310.00" y1="638.20" x2="313.50" y2="638.20" stroke="#222" stroke-width="1.10"/>
<text x="296.10" y="641.20" font-size="8.50" textLength="11.50" lengthAdjust="spacingAndGlyphs" fill="#222">0.0</text>
<line x1="310.00" y1="624.17" x2="313.50" y2="624.17" stroke="#222" stroke-width="1.10"/>
<text x="296.10" y="627.17" font-size="8.50" textLength="11.50" lengthAdjust="spacingAndGlyphs" fill="#222">0.1</text>
<line x1="310.00" y1="610.14" x2="313.50" y2="610.14" stroke="#222" stroke-width="1.10"/>
<text x="296.10" y="613.14" font-size="8.50" textLength="11.50" lengthAdjust="spacingAndGlyphs" fill="#222">0.2</text>
<line x1="310.00" y1="596.11" x2="313.50" y2="596.11" stroke="#222" stroke-width="1.10"/>
<text x="296.10" y="599.11" font-size="8.50" textLength="11.50" lengthAdjust="spacingAndGlyphs" fill="#222">0.3</text>
<line x1="310.00" y1="582.08" x2="313.50" y2="582.08" stroke="#222" stroke-width="1.10"/>
<text x="296.10" y="585.08" font-size="8.50" textLength="11.50" lengthAdjust="spacingAndGlyphs" fill="#222">0.4</text>
<line x1="310.00" y1="568.05" x2="313.50" y2="568.05" stroke="#222" stroke-width="1.10"/>
<text x="296.10" y="571.05" font-size="8.50" textLength="11.50" lengthAdjust="spacingAndGlyphs" fill="#222">0.5</text>
<line x1="310.00" y1="554.02" x2="313.50" y2="554.02" stroke="#222" stroke-width="1.10"/>
<text x="296.10" y="557.02" font-size="8.50" textLength="11.50" lengthAdjust="spacingAndGlyphs" fill="#222">0.6</text>
<line x1="310.00" y1="539.99" x2="313.50" y2="539.99" stroke="#222" stroke-width="1.10"/>
<text x="296.10" y="542.99" font-size="8.50" textLength="11.50" lengthAdjust="spacingAndGlyphs" fill="#222">0.7</text>
<line x1="310.00" y1="525.96" x2="313.50" y2="525.96" stroke="#222" stroke-width="1.10"/>
<text x="296.10" y="528.96" font-size="8.50" textLength="11.50" lengthAdjust="spacingAndGlyphs" fill="#222">0.8</text>
<line x1="310.00" y1="511.93" x2="313.50" y2="511.93" stroke="#222" stroke-width="1.10"/>
<text x="296.10" y="514.93" font-size="8.50" textLength="11.50" lengthAdjust="spacingAndGlyphs" fill="#222">0.9</text>
<line x1="310.00" y1="497.90" x2="313.50" y2="497.90" stroke="#222" stroke-width="1.10"/>
<text x="296.10" y="500.90" font-size="8.50" textLength="11.50" lengthAdjust="spacingAndGlyphs" fill="#222">1.0</text>
<line x1="318.50" y1="642.80" x2="318.50" y2="645.80" stroke="#222" stroke-width="1.10"/>
<text x="316.32" y="655.70" font-size="8.50" textLength="4.36" lengthAdjust="spacingAndGlyphs" fill="#222">0</text>
<line x1="327.72" y1="642.80" x2="327.72" y2="644.40" stroke="#222" stroke-width="1.10"/>
<line x1="336.94" y1="642.80" x2="336.94" y2="644.40" stroke="#222" stroke-width="1.10"/>
<line x1="346.17" y1="642.80" x2="346.17" y2="644.40" stroke="#222" stroke-width="1.10"/>
<line x1="355.39" y1="642.80" x2="355.39" y2="645.80" stroke="#222" stroke-width="1.10"/>
<text x="351.03" y="655.70" font-size="8.50" textLength="8.72" lengthAdjust="spacingAndGlyphs" fill="#222">12</text>
<line x1="364.61" y1="642.80" x2="364.61" y2="644.40" stroke="#222" stroke-width="1.10"/>
<line x1="373.83" y1="642.80" x2="373.83" y2="644.40" stroke="#222" stroke-width="1.10"/>
<line x1="383.05" y1="642.80" x2="383.05" y2="644.40" stroke="#222" stroke-width="1.10"/>
<line x1="392.28" y1="642.80" x2="392.28" y2="645.80" stroke="#222" stroke-width="1.10"/>
<text x="387.92" y="655.70" font-size="8.50" textLength="8.72" lengthAdjust="spacingAndGlyphs" fill="#222">24</text>
<line x1="401.50" y1="642.80" x2="401.50" y2="644.40" stroke="#222" stroke-width="1.10"/>
<line x1="410.72" y1="642.80" x2="410.72" y2="644.40" stroke="#222" stroke-width="1.10"/>
<line x1="419.94" y1="642.80" x2="419.94" y2="644.40" stroke="#222" stroke-width="1.10"/>
<line x1="429.16" y1="642.80" x2="429.16" y2="645.80" stroke="#222" stroke-width="1.10"/>
<text x="424.80" y="655.70" font-size="8.50" textLength="8.72" lengthAdjust="spacingAndGlyphs" fill="#222">36</text>
<line x1="438.39" y1="642.80" x2="438.39" y2="644.40" stroke="#222" stroke-width="1.10"/>
<line x1="447.61" y1="642.80" x2="447.61" y2="644.40" stroke="#222" stroke-width="1.10"/>
<line x1="456.83" y1="642.80" x2="456.83" y2="644.40" stroke="#222" stroke-width="1.10"/>
<line x1="466.05" y1="642.80" x2="466.05" y2="645.80" stroke="#222" stroke-width="1.10"/>
<text x="461.69" y="655.70" font-size="8.50" textLength="8.72" lengthAdjust="spacingAndGlyphs" fill="#222">48</text>
<line x1="475.27" y1="642.80" x2="475.27" y2="644.40" stroke="#222" stroke-width="1.10"/>
<line x1="484.50" y1="642.80" x2="484.50" y2="644.40" stroke="#222" stroke-width="1.10"/>
<line x1="493.72" y1="642.80" x2="493.72" y2="644.40" stroke="#222" stroke-width="1.10"/>
<line x1="502.94" y1="642.80" x2="502.94" y2="645.80" stroke="#222" stroke-width="1.10"/>
<text x="498.58" y="655.70" font-size="8.50" textLength="8.72" lengthAdjust="spacingAndGlyphs" fill="#222">60</text>
<text x="271.00" y="486.80" font-size="10.40" textLength="6.50" lengthAdjust="spacingAndGlyphs" fill="#000" font-weight="bold">F</text>
<g transform="translate(290.30,567.85) rotate(-90)">
<text x="-27.05" y="0.00" font-size="10.20" textLength="54.10" lengthAdjust="spacingAndGlyphs" fill="#222" class="ttl">Overall survival</text>
</g>
<text x="371.90" y="669.50" font-size="10.40" textLength="82.10" lengthAdjust="spacingAndGlyphs" fill="#222" class="ttl">Months since diagnosis</text>
<text x="453.10" y="499.80" font-size="8.00" textLength="55.40" lengthAdjust="spacingAndGlyphs" fill="#222">log-rank <tspan font-style="italic">P</tspan>=.006</text>
<text x="452.60" y="509.10" font-size="8.00" textLength="58.20" lengthAdjust="spacingAndGlyphs" fill="#222">stratified <tspan font-style="italic">P</tspan>=.010</text>
<text x="383.20" y="616.80" font-size="8.20" textLength="46.47" lengthAdjust="spacingAndGlyphs" fill="#222">OS at 3 years</text>
<line x1="319.20" y1="625.80" x2="330.00" y2="625.80" stroke="#2a4a85" stroke-width="1.80"/>
<text x="333.80" y="628.60" font-size="8.20" textLength="40.45" lengthAdjust="spacingAndGlyphs" fill="#222">Community</text>
<text x="383.20" y="628.60" font-size="8.20" textLength="14.73" lengthAdjust="spacingAndGlyphs" fill="#222">53%</text>
<text x="402.80" y="628.60" font-size="8.20" textLength="23.21" lengthAdjust="spacingAndGlyphs" fill="#222">(41-64)</text>
<line x1="319.20" y1="633.50" x2="330.00" y2="633.50" stroke="#e08f14" stroke-width="1.80"/>
<text x="333.80" y="635.80" font-size="8.20" textLength="35.13" lengthAdjust="spacingAndGlyphs" fill="#222">Academic</text>
<text x="383.20" y="635.80" font-size="8.20" textLength="14.73" lengthAdjust="spacingAndGlyphs" fill="#222">72%</text>
<text x="402.80" y="635.80" font-size="8.20" textLength="23.21" lengthAdjust="spacingAndGlyphs" fill="#222">(68-75)</text>
<text x="305.40" y="678.60" font-size="8.80" textLength="6.36" lengthAdjust="spacingAndGlyphs" fill="#222" font-style="italic">N</text>
<rect x="305.90" y="682.10" width="4.30" height="3.90" fill="#2a4a85"/>
<text x="314.45" y="686.40" font-size="8.30" textLength="8.10" lengthAdjust="spacingAndGlyphs" fill="#222">77</text>
<text x="351.34" y="686.40" font-size="8.30" textLength="8.10" lengthAdjust="spacingAndGlyphs" fill="#222">43</text>
<text x="388.23" y="686.40" font-size="8.30" textLength="8.10" lengthAdjust="spacingAndGlyphs" fill="#222">32</text>
<text x="425.12" y="686.40" font-size="8.30" textLength="8.10" lengthAdjust="spacingAndGlyphs" fill="#222">23</text>
<text x="462.00" y="686.40" font-size="8.30" textLength="8.10" lengthAdjust="spacingAndGlyphs" fill="#222">17</text>
<text x="498.89" y="686.40" font-size="8.30" textLength="8.10" lengthAdjust="spacingAndGlyphs" fill="#222">13</text>
<rect x="305.90" y="689.70" width="4.30" height="3.90" fill="#e08f14"/>
<text x="312.43" y="694.00" font-size="8.30" textLength="12.15" lengthAdjust="spacingAndGlyphs" fill="#222">564</text>
<text x="349.31" y="694.00" font-size="8.30" textLength="12.15" lengthAdjust="spacingAndGlyphs" fill="#222">394</text>
<text x="386.20" y="694.00" font-size="8.30" textLength="12.15" lengthAdjust="spacingAndGlyphs" fill="#222">315</text>
<text x="423.09" y="694.00" font-size="8.30" textLength="12.15" lengthAdjust="spacingAndGlyphs" fill="#222">242</text>
<text x="459.98" y="694.00" font-size="8.30" textLength="12.15" lengthAdjust="spacingAndGlyphs" fill="#222">183</text>
<text x="496.87" y="694.00" font-size="8.30" textLength="12.15" lengthAdjust="spacingAndGlyphs" fill="#222">124</text>
<path d="M318.50,497.50 L318.50,498.60 L319.10,501.30 L322.20,505.50 L326.00,506.30 L329.60,506.50 V508.2 H334.6 V510.2 H337.2 L337.90,515.50 L339.80,517.10 L342.20,519.00 L344.50,521.70 L345.60,524.80 L346.40,534.40 L347.90,536.80 L349.30,538.80 L350.30,542.60 L352.20,543.60 L353.70,547.40 H358.9 V549.3 H361.8 V551.7 H367.3 V553.7 H372.6 V558.5 H381.3 V561 H412.4 V563.2 H444.2 V566.6 H502.4" fill="none" stroke="#2a4a85" stroke-width="1.50" stroke-linejoin="miter" stroke-linecap="butt"/>
<path d="M318.70,497.50 L320.60,500.90 L322.90,505.50 L326.00,507.80 L328.30,510.20 L329.80,512.80 L332.90,515.50 L336.00,518.60 L339.10,520.50 L342.20,522.50 L345.20,526.30 L348.80,527.20 L350.80,529.60 L355.60,530.60 L359.40,532.00 L363.30,533.00 L370.00,533.50 L380.60,533.50 L388.30,534.40 L395.00,535.40 L404.20,536.10 L415.80,537.00 L432.00,537.00 L437.70,538.40 L444.60,539.30 L455.00,540.00 L467.70,540.70 L473.50,542.30 L475.80,543.90 L494.30,544.60 L501.20,545.30 L508.20,545.80" fill="none" stroke="#e08f14" stroke-width="1.50" stroke-linejoin="miter" stroke-linecap="butt"/>
</svg></body></html>
